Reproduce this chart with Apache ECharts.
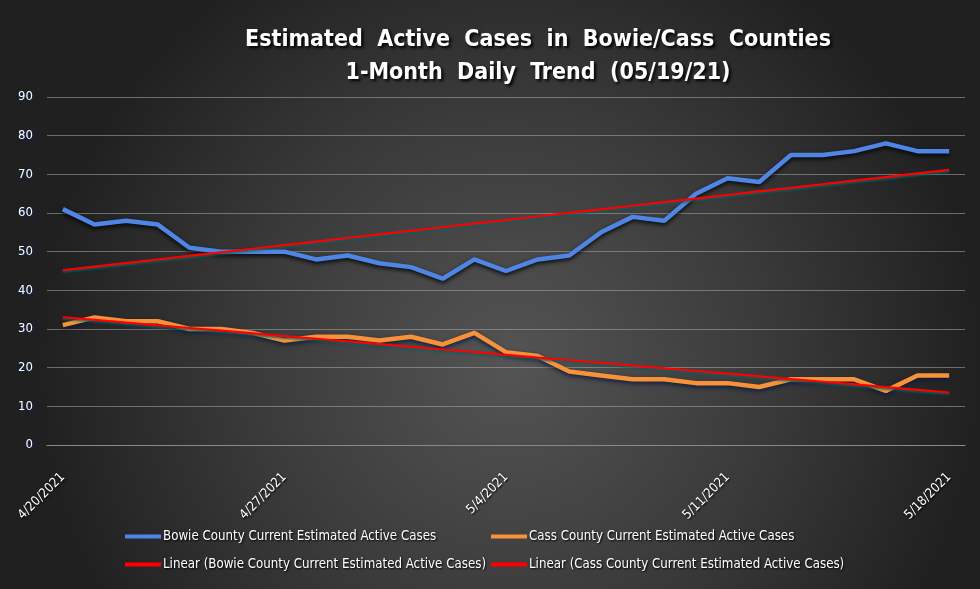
<!DOCTYPE html>
<html><head><meta charset="utf-8">
<script src="https://cdn.jsdelivr.net/npm/echarts@6/dist/echarts.min.js"></script>
<style>html,body{margin:0;padding:0;background:#2a2a2a}#c{width:980px;height:589px}</style>
</head><body><div id="c"></div>
<script>
const dates = ['4/20/2021','4/21/2021','4/22/2021','4/23/2021','4/24/2021','4/25/2021','4/26/2021','4/27/2021','4/28/2021','4/29/2021','4/30/2021','5/1/2021','5/2/2021','5/3/2021','5/4/2021','5/5/2021','5/6/2021','5/7/2021','5/8/2021','5/9/2021','5/10/2021','5/11/2021','5/12/2021','5/13/2021','5/14/2021','5/15/2021','5/16/2021','5/17/2021','5/18/2021'];
const bowie = [61,57,58,57,51,50,50,50,48,49,47,46,43,48,45,48,49,55,59,58,65,69,68,75,75,76,78,76,76];
const cass = [31,33,32,32,30,30,29,27,28,28,27,28,26,29,24,23,19,18,17,17,16,16,15,17,17,17,14,18,18];
const yTicks = [0,10,20,30,40,50,60,70,80,90];
const names = ['Bowie County Current Estimated Active Cases','Cass County Current Estimated Active Cases','Linear (Bowie County Current Estimated Active Cases)','Linear (Cass County Current Estimated Active Cases)'];

// least-squares trendline (as the spreadsheet's "Linear" trendline)
function linear(vals){
  const n = vals.length; let sx=0,sy=0,sxy=0,sxx=0;
  vals.forEach((v,i)=>{sx+=i;sy+=v;sxy+=i*v;sxx+=i*i;});
  const b=(n*sxy-sx*sy)/(n*sxx-sx*sx), a=(sy-b*sx)/n;
  return vals.map((v,i)=>+(a+b*i).toFixed(3));
}
const bowieTrend = linear(bowie), cassTrend = linear(cass);

const COND = '"DejaVu Sans Condensed", "Liberation Sans", sans-serif';
const txt = {color:'#fff', textShadowColor:'#000', textShadowBlur:2, textShadowOffsetX:1, textShadowOffsetY:1};
const chart = echarts.init(document.getElementById('c'));
function leg(name, left, top, color){
  return {data:[{name, icon:'rect', itemStyle:{color}}], left, top, padding:0, itemWidth:36, itemHeight:4, itemGap:0,
    textStyle:Object.assign({fontFamily:COND, fontSize:13.2, padding:[0,0,0,-3]}, txt)};
}
chart.setOption({
  backgroundColor:{type:'radial', x:0.52, y:0.62, r:0.8, colorStops:[{offset:0,color:'#545454'},{offset:0.55,color:'#3a3a3a'},{offset:1,color:'#202020'}]},
  animation:false,
  title:{text:'Estimated  Active  Cases  in  Bowie/Cass  Counties\n1-Month  Daily  Trend  (05/19/21)', left:533, textAlign:'center', top:19,
    textStyle:{fontFamily:COND, fontWeight:'bold', fontSize:23, lineHeight:33, color:'#fff', textShadowColor:'#000', textShadowBlur:3, textShadowOffsetX:2, textShadowOffsetY:2}},
  legend:[leg(names[0],125,530,'#4f86e6'), leg(names[1],491,530,'#f7923a'), leg(names[2],125,558,'#ff0000'), leg(names[3],491,558,'#ff0000')],
  grid:{left:47, right:15, top:97, bottom:144},
  xAxis:{type:'category', data:dates, boundaryGap:true,
    axisLine:{lineStyle:{color:'#8a8a8a', width:1}},
    axisTick:{interval:6, length:5, lineStyle:{color:'#8a8a8a'}},
    axisLabel:Object.assign({interval:6, rotate:45, fontFamily:COND, fontSize:13, margin:30}, txt),
    splitLine:{show:false}},
  yAxis:{type:'value', min:0, max:90, interval:10,
    axisLine:{show:false}, axisTick:{show:false},
    axisLabel:Object.assign({fontFamily:COND, fontSize:13, margin:14, formatter:v=>yTicks.includes(v)?String(v):''}, txt, {textShadowColor:'#0b2a6a'}),
    splitLine:{lineStyle:{color:'rgba(170,170,170,0.55)', width:1}}},
  series:[
    {name:names[0], type:'line', data:bowie, symbol:'none', z:3,
      lineStyle:{color:'#4f86e6', width:4.5, shadowColor:'rgba(0,0,0,0.9)', shadowBlur:4, shadowOffsetY:2}, itemStyle:{color:'#4f86e6'}},
    {name:names[1], type:'line', data:cass, symbol:'none', z:3,
      lineStyle:{color:'#f7923a', width:4.5, shadowColor:'rgba(10,25,60,0.95)', shadowBlur:4, shadowOffsetY:2}, itemStyle:{color:'#f7923a'}},
    {name:names[2], type:'line', data:bowieTrend, symbol:'none', z:4,
      lineStyle:{color:'#ff0000', width:2.2, shadowColor:'rgba(0,100,100,0.9)', shadowBlur:2, shadowOffsetY:1.5}, itemStyle:{color:'#ff0000'}},
    {name:names[3], type:'line', data:cassTrend, symbol:'none', z:4,
      lineStyle:{color:'#ff0000', width:2.2, shadowColor:'rgba(0,100,100,0.9)', shadowBlur:2, shadowOffsetY:1.5}, itemStyle:{color:'#ff0000'}}
  ]
});
</script></body></html>
